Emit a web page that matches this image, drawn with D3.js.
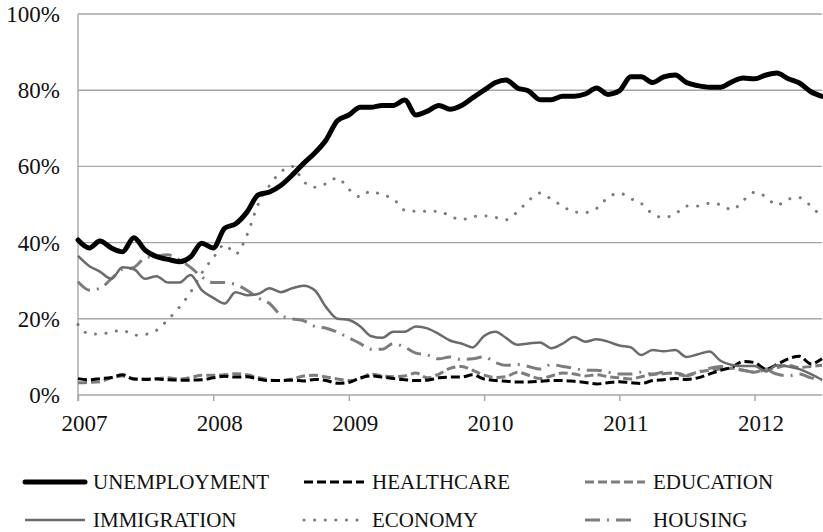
<!DOCTYPE html>
<html>
<head>
<meta charset="utf-8">
<script src="https://cdn.jsdelivr.net/npm/d3@7"></script>
<style>
  body { margin: 0; background: #fff; }
  text { font-family: "Liberation Serif", "Times New Roman", serif; fill: #111; }
</style>
</head>
<body>
<div id="chart"></div>
<script>
// ---------------------- data (monthly, Jan 2007 - Jul 2012) ----------------------
var unemployment = [40.7, 38.6, 40.4, 38.6, 37.6, 41.3, 38, 36.3, 35.6, 35, 36.3, 39.8,
  38.6, 43.8, 44.9, 48, 52.5, 53.3, 55, 57.7, 60.8, 63.5, 67, 72,
  73.5, 75.5, 75.5, 76, 76, 77.4, 73.5, 74.5, 76, 75, 76, 78,
  80, 82, 82.7, 80.6, 79.8, 77.5, 77.5, 78.4, 78.4, 79, 80.6, 78.9,
  79.8, 83.5, 83.5, 82, 83.5, 84, 82, 81.2, 80.8, 80.8, 82.2, 83.2,
  83, 84, 84.5, 83, 81.9, 79.6, 78.4];
var healthcare = [4.3, 4, 4.3, 4.6, 5.3, 4.2, 4.1, 4.2, 4, 3.9, 3.9, 4,
  4.5, 4.9, 4.7, 4.8, 4.2, 3.8, 3.8, 3.9, 3.7, 4.1, 3.8, 3.1,
  3.3, 4.5, 5, 4.7, 4.3, 4, 3.8, 3.9, 4.5, 4.7, 4.7, 5.3,
  4.2, 3.8, 3.6, 3.4, 3.4, 3.6, 3.8, 3.8, 3.6, 3.3, 2.9, 3.2,
  3.5, 3.2, 3, 3.8, 4, 4.3, 4.1, 4.5, 5.5, 6.5, 7.3, 8.8,
  8.5, 6.8, 8, 9.5, 10.2, 8.2, 9.5];
var education = [3.2, 3.3, 3.5, 4.5, 5, 4.2, 4.2, 4.3, 4.5, 4.2, 4.6, 5.2,
  5.2, 5.3, 5.6, 5.3, 4.6, 4, 3.8, 4.2, 5, 5.2, 4.7, 4.2,
  3.8, 4.3, 5.5, 5, 4.8, 5, 5.8, 4.5, 5.5, 7, 7.5, 6.5,
  5.2, 4.6, 4.8, 6, 5.2, 4.3, 5, 5.8, 5.5, 5, 5.3, 4.8,
  4.5, 4.2, 4.8, 5.4, 5.6, 5.8, 5.2, 6, 6.5, 6.8, 7, 6.5,
  6, 6.8, 7.2, 7.8, 7.2, 7.5, 7.8];
var immigration = [36.5, 33.8, 32.4, 30.5, 33.5, 33, 30.5, 31.2, 29.5, 29.5, 31.5, 27.5,
  25.5, 24, 27, 26.2, 26.5, 28, 27, 28, 28.7, 27.5, 23, 20,
  19.7, 18, 15.5, 15, 16.6, 16.6, 18, 17.5, 16, 14.3, 13.5, 12.5,
  15.5, 16.6, 15, 13.2, 13.5, 13.8, 12.3, 13.5, 15.2, 14, 14.6, 14,
  13, 12.5, 10.5, 11.8, 11.5, 11.8, 10, 10.7, 11.4, 9, 7.9, 7.6,
  7.6, 6.2, 7.8, 7.5, 6.8, 5.5, 4];
var economy = [18.5, 16, 16, 16.5, 17, 15.7, 15.9, 17, 19.8, 23, 27, 32,
  36, 39.5, 37, 42, 50, 55, 58.5, 60, 56, 54.5, 55.5, 57,
  54, 52, 53.5, 52.5, 51.5, 48.5, 48.2, 48.2, 48.2, 47, 46, 46.8,
  47, 46.6, 46, 48.1, 51, 53, 51.4, 49.6, 48, 47.9, 49, 51.8,
  53, 51.5, 50.3, 47.5, 46.6, 47.5, 49.6, 49.6, 50.3, 50, 48.6, 51,
  53.2, 52, 49.8, 51.4, 51.8, 49.6, 46.6];
var housing = [29.7, 27.5, 28, 30.5, 33, 33.5, 36, 36.5, 36.8, 35.5, 33.5, 31,
  29.5, 29.5, 29, 27.5, 25.5, 24, 21, 20, 19.5, 18, 17.5, 16.5,
  15, 13.5, 12, 12, 13.5, 12.5, 11, 10.5, 9.5, 10, 9.3, 9.5,
  10, 8.5, 7.8, 8, 7.5, 6.8, 8, 7.5, 7, 6.5, 6.5, 6,
  5.5, 5.5, 6, 5.5, 6, 5.5, 5, 6, 7, 7.5, 7, 6.5,
  6, 6.5, 5.5, 5, 5.5, 4.5, 4];

var yTicks = [0, 20, 40, 60, 80, 100];
var xTickYears = [2007, 2008, 2009, 2010, 2011, 2012];

var months = d3.range(unemployment.length).map(function(i) { return new Date(2007, i, 1); });

// ---------------------- series styles ----------------------
var series = [
  { name: "ECONOMY",      values: economy,      color: "#7a7a7a", width: 3,   dash: "0.1,10.5", cap: "round", row: 1, col: 1 },
  { name: "HOUSING",      values: housing,      color: "#7d7d7d", width: 3,   dash: "15,7,2,7",  cap: "butt",  row: 1, col: 2 },
  { name: "EDUCATION",    values: education,    color: "#7d7d7d", width: 3,   dash: "9,4",       cap: "butt",  row: 0, col: 2 },
  { name: "HEALTHCARE",   values: healthcare,   color: "#000",    width: 3,   dash: "9,4",       cap: "butt",  row: 0, col: 1 },
  { name: "IMMIGRATION",  values: immigration,  color: "#6b6b6b", width: 2.5, dash: null,        cap: "butt",  row: 1, col: 0 },
  { name: "UNEMPLOYMENT", values: unemployment, color: "#000",    width: 5,   dash: null,        cap: "round", row: 0, col: 0 }
];

// ---------------------- draw ----------------------
var svg = d3.select("#chart")
     .append("svg")
     .attr("width", 823)
     .attr("height", 532);

var x = d3.scaleTime()
     .domain([new Date(2007, 0, 1), new Date(2012, 6, 1)])
     .range([78, 822]);

var y = d3.scaleLinear()
     .domain([0, 100])
     .range([395, 14]);

// gridlines
svg.append("g")
     .selectAll("line")
     .data(yTicks)
     .enter()
     .append("line")
     .attr("x1", 78)
     .attr("x2", 822)
     .attr("y1", function(d) { return y(d); })
     .attr("y2", function(d) { return y(d); })
     .attr("stroke", "#a6a6a6")
     .attr("stroke-width", 1.4);

// left axis line
svg.append("line")
     .attr("x1", 78).attr("x2", 78)
     .attr("y1", y(100)).attr("y2", y(0) + 6)
     .attr("stroke", "#a6a6a6")
     .attr("stroke-width", 1.4);

// y labels
svg.append("g")
     .selectAll("text")
     .data(yTicks)
     .enter()
     .append("text")
     .attr("x", 60)
     .attr("y", function(d) { return y(d); })
     .attr("dy", "0.35em")
     .attr("text-anchor", "end")
     .style("font-size", "23px")
     .text(function(d) { return d + "%"; });

// x axis ticks + labels
var xAxis = d3.axisBottom(x)
     .tickValues(xTickYears.map(function(yr) { return new Date(yr, 0, 1); }))
     .tickFormat(d3.timeFormat("%Y"))
     .tickSize(6)
     .tickSizeOuter(0);

var gx = svg.append("g")
     .attr("transform", "translate(0," + y(0) + ")")
     .call(xAxis);
gx.select(".domain").remove();
gx.selectAll(".tick line").attr("stroke", "#a6a6a6").attr("stroke-width", 1.4);
gx.selectAll(".tick text")
     .attr("x", 6)
     .attr("y", 20)
     .attr("fill", "#111")
     .style("font-family", "'Liberation Serif', serif")
     .style("font-size", "23px");

// lines
var line = d3.line()
     .x(function(d, i) { return x(months[i]); })
     .y(function(d) { return y(d); })
     .curve(d3.curveMonotoneX);

svg.append("g")
     .selectAll("path")
     .data(series)
     .enter()
     .append("path")
     .attr("d", function(s) { return line(s.values); })
     .attr("fill", "none")
     .attr("stroke", function(s) { return s.color; })
     .attr("stroke-width", function(s) { return s.width; })
     .attr("stroke-dasharray", function(s) { return s.dash; })
     .attr("stroke-linecap", function(s) { return s.cap; })
     .attr("stroke-linejoin", "round");

// legend
var legX = [25, 304, 585];
var legY = [482, 520];
var leg = svg.append("g")
     .selectAll("g")
     .data(series)
     .enter()
     .append("g")
     .attr("transform", function(s) { return "translate(" + legX[s.col] + "," + legY[s.row] + ")"; });

leg.append("line")
     .attr("x1", 0)
     .attr("x2", function(s) { return s.name == "HOUSING" ? 52 : 60; })
     .attr("y1", 0).attr("y2", 0)
     .attr("stroke", function(s) { return s.color; })
     .attr("stroke-width", function(s) { return s.width; })
     .attr("stroke-dasharray", function(s) { return s.dash; })
     .attr("stroke-linecap", function(s) { return s.cap; });

leg.append("text")
     .attr("x", 68)
     .attr("y", 7)
     .style("font-size", "21px")
     .text(function(s) { return s.name; });
</script>
</body>
</html>
